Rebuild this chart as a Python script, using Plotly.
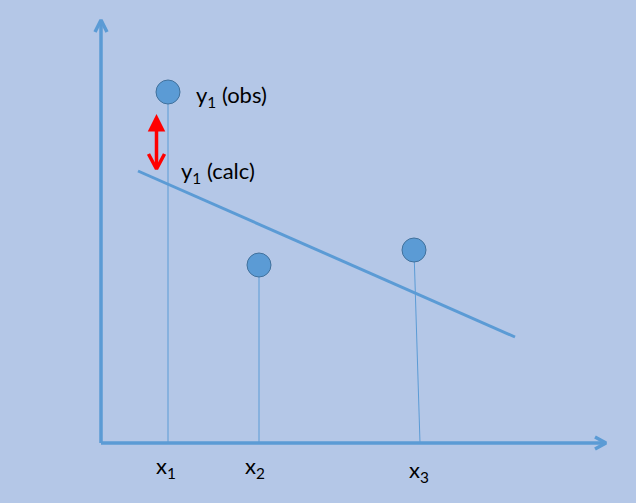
import plotly.graph_objects as go

# Data (origin of the drawn axes at (0, 0))
x_obs = [67, 158, 313]
y_obs = [351, 178, 193]
stem_base_x = [67, 158, 319]
fit_x = [37, 414]
fit_y = [272, 106]
x_tick_labels = ["x<sub>1</sub>", "x<sub>2</sub>", "x<sub>3</sub>"]
x_label_pos = [53, 142, 306]
x_label_y = [-24, -24, -28]
obs_label = "y<sub>1</sub> (obs)"
calc_label = "y<sub>1</sub> (calc)"
residual_x = 55.5
residual_top = 329   # observed side
residual_bottom = 273  # calculated side

BG = "#B4C7E7"
BLUE = "#5B9BD5"
RED = "#FF0000"
FONT = "Lato"

fig = go.Figure()

# stems
for xt, yt, xb in zip(x_obs, y_obs, stem_base_x):
    fig.add_trace(go.Scatter(x=[xb, xt], y=[0, yt], mode="lines",
                             line=dict(color=BLUE, width=1), hoverinfo="skip"))

# axes with chevron heads
fig.add_trace(go.Scatter(x=[0, 0], y=[0, 423], mode="lines",
                         line=dict(color=BLUE, width=3.5), hoverinfo="skip"))
fig.add_trace(go.Scatter(x=[-6, 0, 6], y=[411, 423, 411], mode="lines",
                         line=dict(color=BLUE, width=3.5), hoverinfo="skip"))
fig.add_trace(go.Scatter(x=[0, 505], y=[0, 0], mode="lines",
                         line=dict(color=BLUE, width=3.5), hoverinfo="skip"))
fig.add_trace(go.Scatter(x=[494, 505, 494], y=[6, 0, -6], mode="lines",
                         line=dict(color=BLUE, width=3.5), hoverinfo="skip"))

# fitted line
fig.add_trace(go.Scatter(x=fit_x, y=fit_y, mode="lines",
                         line=dict(color=BLUE, width=3), hoverinfo="skip"))

# observed points
fig.add_trace(go.Scatter(x=x_obs, y=y_obs, mode="markers",
                         marker=dict(size=24, color=BLUE,
                                     line=dict(color="#41719C", width=1)),
                         hoverinfo="skip"))

# red double arrow: filled head at top, open V head at bottom
fig.add_annotation(x=residual_x, y=residual_top, ax=residual_x,
                   ay=residual_bottom + 1, xref="x", yref="y",
                   axref="x", ayref="y", text="", showarrow=True,
                   arrowhead=2, arrowsize=1.0, arrowwidth=3.5,
                   arrowcolor=RED, standoff=0)
fig.add_trace(go.Scatter(x=[residual_x - 8, residual_x, residual_x + 8],
                         y=[residual_bottom + 16, residual_bottom + 1,
                            residual_bottom + 16],
                         mode="lines", line=dict(color=RED, width=3.5),
                         hoverinfo="skip"))

fnt = dict(family=FONT, size=22, color="#000000")
fig.add_annotation(x=93, y=347, text=obs_label, showarrow=False,
                   xanchor="left", yanchor="middle", font=fnt)
fig.add_annotation(x=78, y=271, text=calc_label, showarrow=False,
                   xanchor="left", yanchor="middle", font=fnt)
for lab, xp, yp in zip(x_tick_labels, x_label_pos, x_label_y):
    fig.add_annotation(x=xp, y=yp, text=lab, showarrow=False,
                       xanchor="left", yanchor="middle", font=fnt)

fig.update_layout(
    width=636, height=503, margin=dict(l=0, r=0, t=0, b=0),
    paper_bgcolor=BG, plot_bgcolor=BG, showlegend=False,
    xaxis=dict(range=[-101, 535], visible=False, fixedrange=True),
    yaxis=dict(range=[-60, 443], visible=False, fixedrange=True),
)

fig.write_html("out.html", config={"displayModeBar": False},
               post_script="document.body.style.margin='0';"
                           "document.body.style.overflow='hidden';")
